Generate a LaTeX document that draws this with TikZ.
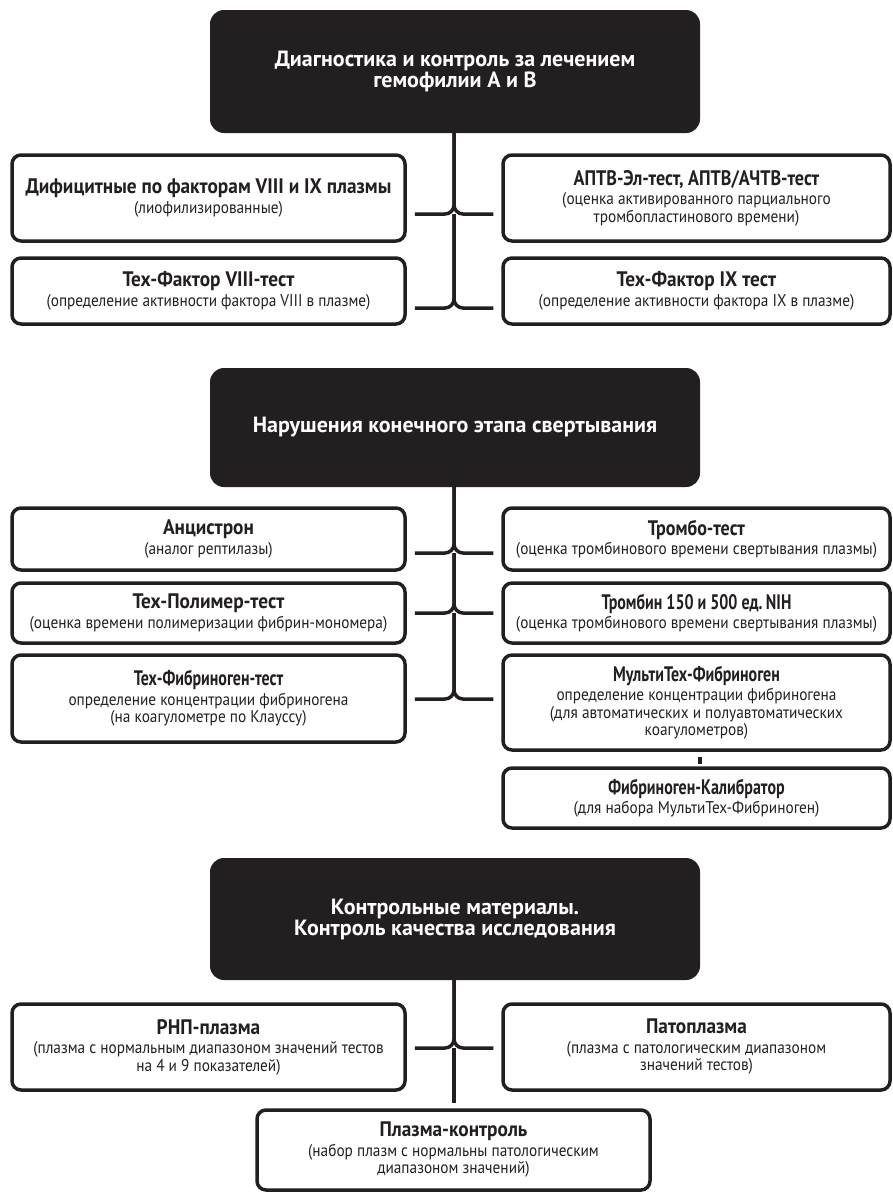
\documentclass[tikz,border=0pt]{standalone}
\usepackage{fontspec}
\setmainfont[FakeStretch=0.9]{PT Sans}
\newfontfamily\darkfont{PT Sans}
\newfontfamily\ttlfont[FakeStretch=0.92]{PT Sans}
\newfontfamily\ttlmidfont[FakeStretch=0.86]{PT Sans}
\newfontfamily\ttlnarfont[FakeStretch=0.76]{PT Sans}
\usetikzlibrary{calc}
\definecolor{ink}{HTML}{231F20}
\newcommand\ttl[1]{{\ttlfont\fontsize{21}{22}\selectfont\bfseries #1}}
\newcommand\ttlm[1]{{\ttlmidfont\fontsize{21}{22}\selectfont\bfseries #1}}
\newcommand\ttln[1]{{\ttlnarfont\fontsize{21}{22}\selectfont\bfseries #1}}
\tikzset{
  wbox/.style={draw=ink, line width=3.5pt, rounded corners=9pt, fill=white,
    align=center, inner sep=0pt, text=ink, minimum width=390pt,
    font=\fontsize{17}{17.5}\selectfont},
  dbox/.style={fill=ink, rounded corners=14pt, text=white, align=center,
    inner sep=0pt, minimum width=490pt,
    font=\darkfont\fontsize{22}{21}\selectfont\bfseries},
  conn/.style={draw=ink, line width=3.5pt, rounded corners=9pt},
  link/.style={draw=ink, line width=3.5pt},
}
\begin{document}
\begin{tikzpicture}[x=1pt,y=-1pt]
\useasboundingbox (0,0) rectangle (892,1194);
% ---------- section 1
\node[dbox, minimum height=123pt] (D1) at (455,71.5) {Диагностика и контроль за лечением\\гемофилии А и В};
\node[wbox, minimum width=393pt, minimum height=86pt] (L11) at (208.5,198) {\ttl{Дифицитные по факторам VIII и IX плазмы}\\[2pt](лиофилизированные)};
\node[wbox, minimum width=387pt, minimum height=86pt] (R11) at (696.5,198) {\ttlm{АПТВ-Эл-тест, АПТВ/АЧТВ-тест}\\[2pt](оценка активированного парциального\\тромбопластинового времени)};
\node[wbox, minimum width=393pt, minimum height=66pt] (L12) at (208.5,291) {\ttl{Тех-Фактор VIII-тест}\\[2pt](определение активности фактора VIII в плазме)};
\node[wbox, minimum width=387pt, minimum height=66pt] (R12) at (696.5,291) {\ttl{Тех-Фактор IX тест}\\[2pt](определение активности фактора IX в плазме)};
\coordinate (j1) at (454,214);
\coordinate (j2) at (454,308);
\draw[conn] ($(L11.east |- j1)+(8,0)$) -- (j1) -- (D1.south -| j1);
\draw[conn] ($(R11.west |- j1)+(-8,0)$) -- (j1) -- (D1.south -| j1);
\draw[conn] ($(L12.east |- j2)+(8,0)$) -- (j2) -- (j1);
\draw[conn] ($(R12.west |- j2)+(-8,0)$) -- (j2) -- (j1);
% ---------- section 2
\node[dbox, minimum height=119pt] (D2) at (455,427.5) {Нарушения конечного этапа свертывания};
\node[wbox, minimum width=393pt, minimum height=62pt] (L21) at (208.5,539) {\ttl{Анцистрон}\\[2pt](аналог рептилазы)};
\node[wbox, minimum width=387pt, minimum height=62pt] (R21) at (696.5,539) {\ttlm{Тромбо-тест}\\[2pt](оценка тромбинового времени свертывания плазмы)};
\node[wbox, minimum width=393pt, minimum height=60pt] (L22) at (208.5,613) {\ttl{Тех-Полимер-тест}\\[2pt](оценка времени полимеризации фибрин-мономера)};
\node[wbox, minimum width=387pt, minimum height=60pt] (R22) at (696.5,613) {\ttln{Тромбин 150 и 500 ед.\,NIH}\\[2pt](оценка тромбинового времени свертывания плазмы)};
\node[wbox, minimum width=393pt, minimum height=87pt] (L23) at (208.5,698.5) {\ttln{Тех-Фибриноген-тест}\\[2pt]определение концентрации фибриногена\\(на коагулометре по Клауссу)};
\node[wbox, minimum width=387pt, minimum height=95pt] (R23) at (696.5,702.5) {\ttln{МультиТех-Фибриноген}\\[2pt]определение концентрации фибриногена\\(для автоматических и полуавтоматических\\коагулометров)};
\node[wbox, minimum width=387pt, minimum height=60pt] (R24) at (696.5,798) {\ttln{Фибриноген-Калибратор}\\[2pt](для набора МультиТех-Фибриноген)};
\coordinate (j3) at (454,553);
\coordinate (j4) at (454,613);
\coordinate (j5) at (454,699);
\draw[conn] ($(L21.east |- j3)+(8,0)$) -- (j3) -- (D2.south -| j3);
\draw[conn] ($(R21.west |- j3)+(-8,0)$) -- (j3) -- (D2.south -| j3);
\draw[conn] ($(L22.east |- j4)+(8,0)$) -- (j4) -- (j3);
\draw[conn] ($(R22.west |- j4)+(-8,0)$) -- (j4) -- (j3);
\draw[conn] ($(L23.east |- j5)+(8,0)$) -- (j5) -- (j4);
\draw[conn] ($(R23.west |- j5)+(-8,0)$) -- (j5) -- (j4);
\draw[link] ($(R23.south)+(3.5,5)$) -- ($(R24.north)+(3.5,-2)$);
% ---------- section 3
\node[dbox, minimum height=122pt] (D3) at (455,919) {Контрольные материалы.\\Контроль качества исследования};
\node[wbox, minimum width=393pt, minimum height=86pt] (L31) at (208.5,1047) {\ttl{РНП-плазма}\\[2pt](плазма с нормальным диапазоном значений тестов\\на 4 и 9 показателей)};
\node[wbox, minimum width=387pt, minimum height=86pt] (R31) at (696.5,1047) {\ttl{Патоплазма}\\[2pt](плазма с патологическим диапазоном\\значений тестов)};
\node[wbox, minimum width=393pt, minimum height=80pt] (B32) at (453.5,1150) {\ttl{Плазма-контроль}\\[2pt](набор плазм с нормальны патологическим\\диапазоном значений)};
\coordinate (j6) at (454,1048);
\draw[conn] ($(L31.east |- j6)+(8,0)$) -- (j6) -- (D3.south -| j6);
\draw[conn] ($(R31.west |- j6)+(-8,0)$) -- (j6) -- (D3.south -| j6);
\draw[link] (j6) -- ($(B32.north -| j6)+(0,-5)$);
\end{tikzpicture}
\end{document}
